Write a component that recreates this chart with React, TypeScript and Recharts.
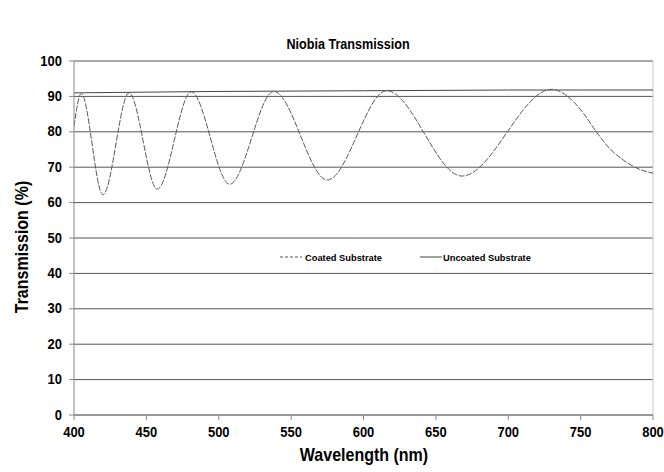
import React from 'react';
import { LineChart, Line, XAxis, YAxis, CartesianGrid, ReferenceLine } from 'recharts';

// coated substrate (peaks, troughs, and the tail at the right)
const coatedWavelength = [400, 405, 420, 438, 457.5, 481, 507.5, 538, 575, 616, 668, 730, 742.5, 752, 761, 770, 779.5, 789, 800];
const coatedTransmission = [81.5, 90.8, 62.2, 91.0, 63.8, 91.3, 65.2, 91.4, 66.4, 91.6, 67.5, 92.0, 89.5, 85.2, 79.9, 75.3, 72.0, 69.7, 68.3];

const uncoatedWavelength = [400, 450, 500, 550, 600, 650, 700, 750, 800];
const uncoatedTransmission = [91.0, 91.2, 91.4, 91.5, 91.6, 91.7, 91.8, 91.8, 91.8];

const xTicks = [400, 450, 500, 550, 600, 650, 700, 750, 800];
const yTicks = [0, 10, 20, 30, 40, 50, 60, 70, 80, 90, 100];

const FONT = '"Liberation Sans", Arial, Helvetica, sans-serif';
const SY = 1.18; // the original picture is a bit stretched vertically

const coatedData = coatedWavelength.map((w, i) => ({ wavelength: w, value: coatedTransmission[i] }));
const uncoatedData = uncoatedWavelength.map((w, i) => ({ wavelength: w, value: uncoatedTransmission[i] }));

const XTick = ({ x, payload }: any) => (
  <text transform={`translate(${x},437) scale(1,${SY})`} textAnchor="middle" fontFamily={FONT} fontWeight="bold" fontSize={13} fill="#000">
    {payload.value}
  </text>
);

const YTick = ({ y, payload }: any) => (
  <text transform={`translate(62,${y + 4.5}) scale(1,${SY})`} textAnchor="end" fontFamily={FONT} fontWeight="bold" fontSize={13} fill="#000">
    {payload.value}
  </text>
);

const App = () => {
  return (
    <div style={{ position: 'absolute', left: 0, top: 0, width: 664, height: 472, background: '#fff' }}>
      <LineChart width={664} height={472} margin={{ top: 61, right: 11, left: 0, bottom: 0 }}>
        <CartesianGrid vertical={false} stroke="#555" strokeWidth={1} />
        <XAxis
          type="number"
          dataKey="wavelength"
          domain={[400, 800]}
          ticks={xTicks}
          interval={0}
          height={57}
          stroke="#888"
          tickSize={5}
          tick={<XTick />}
          allowDataOverflow
        />
        <YAxis
          type="number"
          domain={[0, 100]}
          ticks={yTicks}
          interval={0}
          width={74}
          stroke="#888"
          tickSize={5}
          tick={<YTick />}
        />
        <ReferenceLine x={800} stroke="#c8c8c8" />
        <Line
          data={uncoatedData}
          dataKey="value"
          type="monotone"
          stroke="#444"
          strokeWidth={1}
          dot={false}
          isAnimationActive={false}
          name="Uncoated Substrate"
        />
        <Line
          data={coatedData}
          dataKey="value"
          type="monotone"
          stroke="#5a5a5a"
          strokeWidth={1}
          strokeDasharray="6 1.5"
          dot={false}
          isAnimationActive={false}
          name="Coated Substrate"
        />
      </LineChart>
      <svg width={280} height={16} style={{ position: 'absolute', left: 280, top: 249 }}>
        <line x1={0} y1={8} x2={22} y2={8} stroke="#555" strokeWidth={1} strokeDasharray="3 2" />
        <text x={25} y={11.5} fontFamily={FONT} fontWeight="bold" fontSize={9.3} fill="#000">Coated Substrate</text>
        <line x1={140} y1={8} x2={162} y2={8} stroke="#444" strokeWidth={1} />
        <text x={163} y={11.5} fontFamily={FONT} fontWeight="bold" fontSize={9.3} fill="#000">Uncoated Substrate</text>
      </svg>
      <div style={{ position: 'absolute', left: 248, top: 37, width: 200, textAlign: 'center', fontFamily: FONT, fontWeight: 'bold', fontSize: 12.6, transform: `scaleY(${SY})` }}>
        Niobia Transmission
      </div>
      <div style={{ position: 'absolute', left: 264, top: 446, width: 200, textAlign: 'center', fontFamily: FONT, fontWeight: 'bold', fontSize: 16, transform: `scaleY(${SY})` }}>
        Wavelength (nm)
      </div>
      <div style={{ position: 'absolute', left: 22, top: 247, width: 0, height: 0 }}>
        <div style={{ position: 'absolute', left: -100, top: -10, width: 200, textAlign: 'center', fontFamily: FONT, fontWeight: 'bold', fontSize: 16, lineHeight: '20px', transform: `scaleX(${SY}) rotate(-90deg)`, transformOrigin: '100px 10px' }}>
          Transmission (%)
        </div>
      </div>
    </div>
  );
};

export default App;
